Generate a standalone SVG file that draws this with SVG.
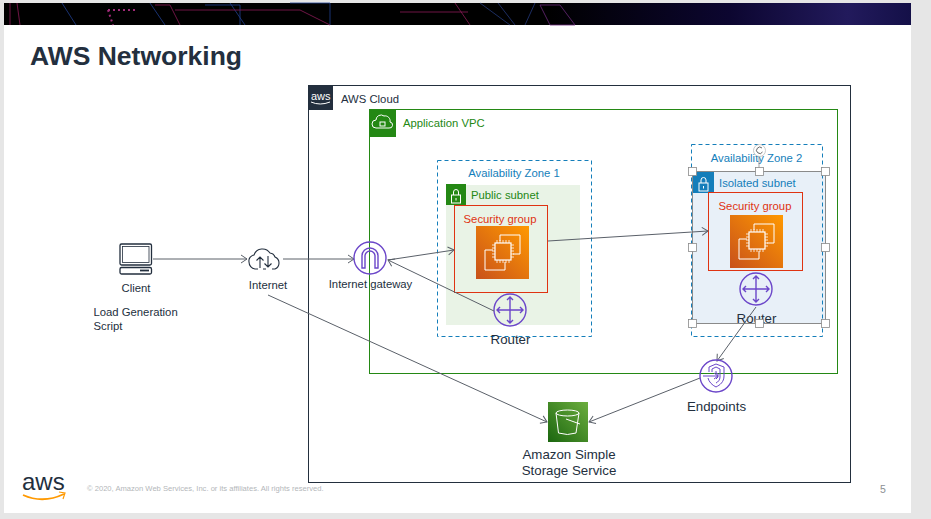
<svg xmlns="http://www.w3.org/2000/svg" width="931" height="519" viewBox="0 0 931 519">
<style>
text{font-family:"Liberation Sans",Arial,sans-serif;font-size:11.3px;fill:#232f3e}
.m{text-anchor:middle}
.big{font-size:13.3px}
.conn{fill:none;stroke:#5a6069;stroke-width:1;marker-end:url(#arr)}
.pi{fill:none;stroke:#6b46c9;stroke-width:1.4}
.wi{fill:none;stroke:#fff;stroke-width:1}
.h{fill:#fff;stroke:#8a8a8a;stroke-width:.8}
.grn{fill:#248814}.blu{fill:#147eba}
.sg{fill:none;stroke:#df3312;stroke-width:1}
.az{fill:none;stroke:#147eba;stroke-width:1;stroke-dasharray:4 3}
</style>
<defs>
<marker id="arr" viewBox="0 0 8 10" refX="7" refY="5" markerWidth="8" markerHeight="10" markerUnits="userSpaceOnUse" orient="auto"><path d="M1 1L7 5L1 9" fill="none" stroke="#5a6069" stroke-width="1"/></marker>
<linearGradient id="ec2g" x1="0" y1="1" x2="1" y2="0"><stop offset="0" stop-color="#c8511b"/><stop offset="1" stop-color="#f90"/></linearGradient>
<linearGradient id="s3g" x1="0" y1="1" x2="1" y2="0"><stop offset="0" stop-color="#1b660f"/><stop offset="1" stop-color="#6cae3e"/></linearGradient>
<linearGradient id="ban" x1="0" y1="0" x2="1" y2="0"><stop offset="0" stop-color="#000"/><stop offset=".6" stop-color="#000"/><stop offset=".8" stop-color="#0c0630"/><stop offset=".93" stop-color="#221a5c"/><stop offset="1" stop-color="#141048"/></linearGradient>
<g id="ec2"><rect width="53" height="53" fill="url(#ec2g)"/><path class="wi" d="M24 15V9H44V28H37M17 24H9V44H29V36"/><rect class="wi" x="19" y="17" width="16" height="17" style="stroke-width:1.200"/><path class="wi" d="M21 14V17M24 14V17M27 14V17M30 14V17M33 14V17M21 34V37M24 34V37M27 34V37M30 34V37M33 34V37M16 19H19M16 22H19M16 25H19M16 28H19M16 31H19M35 19H38M35 22H38M35 25H38M35 28H38M35 31H38" style="stroke-width:.8"/></g>
<g id="router"><circle class="pi" r="16"/><path class="pi" d="M0-13V13M-13 0H13M-3-10L0-13L3-10M-3 10L0 13L3 10M-10-3L-13 0L-10 3M10-3L13 0L10 3"/></g>
<g id="lock"><rect x="-4" y="-1" width="9" height="8" class="wi"/><path class="wi" d="M-2-1V-4A2.500 2.500 0 0 1 3-4V-1M.500 2V4.500"/></g>
</defs>

<rect width="931" height="519" fill="#e6e6e6"/>
<rect x="4" y="3" width="907" height="510" fill="#fff"/>
<rect x="4" y="3" width="907" height="22" fill="url(#ban)"/>
<g fill="none" stroke-width=".8">
<path stroke="#1f3f8f" d="M62 3L76 25M150 3L165 25M230 3L245 25M290 3H330V25M205 5H240V25"/>
<path stroke="#8a1a55" d="M10 3V25M17 3L20 25M175 10H300L330 25M400 12H468M455 3L470 25M155 5H170L180 25"/>
<path stroke="#a02a78" stroke-dasharray="2 3" stroke-width="2" d="M108 10H138M108 10L113 25"/>
<path stroke="#6a2a7a" d="M540 5H560L575 25H550L540 5"/>
<path stroke="#23387a" d="M480 3L510 25M498 3L515 25M525 25L535 3"/>
</g>
<text x="30" y="65" style="font-size:26.500px;font-weight:bold">AWS Networking</text>

<g id="aws-cloud"><rect x="308.500" y="85.500" width="542" height="397" fill="none" stroke="#232f3e"/><rect x="308" y="85" width="25" height="25" fill="#232f3e"/><text x="311" y="100" style="font-size:11px;fill:#fff">aws</text><path d="M311 102Q320 106 330 102" fill="none" stroke="#fff"/><text x="341" y="103">AWS Cloud</text></g>
<g id="vpc"><rect x="369.500" y="109.500" width="468" height="264" fill="none" stroke="#248814"/><rect x="369.500" y="109.500" width="26.500" height="27.500" class="grn"/><path class="wi" d="M376 128A4 4 0 0 1 376 120A5 5 0 0 1 384 116A5 5 0 0 1 390 122A3 3 0 0 1 389 128Z"/><rect class="wi" x="380" y="122" width="5" height="4"/><text x="403" y="127" style="fill:#248814">Application VPC</text></g>

<g id="az1"><rect x="437.500" y="160.500" width="154" height="176" class="az"/><text class="m" x="514" y="177" style="fill:#147eba">Availability Zone 1</text></g>
<g id="public-subnet"><rect x="446" y="185" width="134" height="140" fill="#e9f3e6"/><rect x="446" y="184" width="20" height="21" class="grn"/><use href="#lock" x="455.500" y="196"/><text x="471" y="199" style="fill:#248814">Public subnet</text></g>
<g id="sg1"><rect x="454.500" y="205.500" width="93" height="87" class="sg"/><text class="m" x="500" y="223" style="fill:#df3312">Security group</text><use href="#ec2" x="476" y="226"/></g>
<g id="router1"><use href="#router" x="510" y="310"/><text class="m big" x="510.500" y="344">Router</text></g>

<g id="isolated-subnet"><rect x="692.500" y="171.500" width="133" height="152" fill="#e8f0f8" stroke="#8a8a8a"/><rect x="693" y="172" width="21" height="21" class="blu"/><use href="#lock" x="703" y="184"/><text x="719" y="187" style="fill:#147eba">Isolated subnet</text></g>
<g id="az2"><rect x="691.500" y="144.500" width="131" height="192" class="az"/><text class="m" x="756.500" y="162" style="fill:#147eba">Availability Zone 2</text></g>
<g id="sg2"><rect x="708.500" y="192.500" width="94" height="78" class="sg"/><text class="m" x="755" y="210" style="fill:#df3312">Security group</text><use href="#ec2" x="730" y="215"/></g>
<g id="router2"><use href="#router" x="756" y="289"/><text class="m big" x="756.500" y="323">Router</text></g>

<g id="connectors">
<path class="conn" d="M153 259H247"/>
<path class="conn" d="M283 259H354"/>
<path class="conn" d="M388 260L454 250"/>
<path class="conn" d="M494 311L388 260"/>
<path class="conn" d="M548 241L708 231"/>
<path class="conn" d="M268 295L547 422"/>
<path class="conn" d="M756 307L717 361"/>
<path class="conn" d="M700 378L589 422"/>
</g>

<g id="selection">
<path d="M759 171V156" stroke="#8a8a8a" fill="none" stroke-width=".8"/>
<circle cx="759.500" cy="150.500" r="6" fill="#fff" stroke="#bbb" stroke-width=".8"/><path d="M762 148A3.200 3.200 0 1 0 762.500 152" fill="none" stroke="#555" stroke-width=".9"/>
<rect class="h" x="688.500" y="167.500" width="8" height="8"/><rect class="h" x="755.500" y="167.500" width="8" height="8"/><rect class="h" x="821.500" y="167.500" width="8" height="8"/>
<rect class="h" x="688.500" y="243.500" width="8" height="8"/><rect class="h" x="821.500" y="243.500" width="8" height="8"/>
<rect class="h" x="688.500" y="319.500" width="8" height="8"/><rect class="h" x="755.500" y="319.500" width="8" height="8"/><rect class="h" x="821.500" y="319.500" width="8" height="8"/>
</g>

<g id="client"><rect x="120" y="244" width="31.500" height="21" rx="1.500" fill="none" stroke="#232f3e" stroke-width="1.300"/><rect x="122.500" y="246.500" width="26.500" height="16" fill="none" stroke="#232f3e" stroke-width=".8"/><rect x="120" y="267.500" width="31.500" height="6.500" rx="1.500" fill="none" stroke="#232f3e" stroke-width="1.300"/><path d="M140 270.500H149" stroke="#232f3e" stroke-width="1.800"/><text class="m" x="136" y="292">Client</text></g>
<text x="93.500" y="316">Load Generation</text><text x="93.500" y="330">Script</text>

<g id="internet"><path d="M258 269H255A7 7 0 0 1 249 262A6 6 0 0 1 254 255A9 9 0 0 1 270 253A6 6 0 0 1 275 257A6.500 6.500 0 0 1 275 269H272" fill="none" stroke="#232f3e" stroke-width="1.100"/><path d="M260 268V257M256.500 260.500L260 257L263.500 260.500M268 256V267M264.500 263.500L268 267L271.500 263.500M263 269H266" fill="none" stroke="#232f3e" stroke-width="1.100"/><text class="m" x="268" y="289">Internet</text></g>

<g id="igw"><circle class="pi" cx="370" cy="258" r="16"/><path class="pi" d="M362 268V256A8 8 0 0 1 378 256V268H375V256A5 5 0 0 0 365 256V268Z"/><text class="m" x="370.500" y="288">Internet gateway</text></g>

<g id="endpoints"><circle class="pi" cx="716" cy="376" r="16"/><path class="pi" style="stroke-width:1" d="M709 372V367L716 364L724 367V376C724 382 720 385 716 387C712 385 709 382 708 378M712 372V369L716 367L720 369V377C720 380 718 382 716 383M716 371V373L718 374V377L716 379M703 376H717M714 373L718 376L714 379"/><text class="m big" x="716.500" y="411">Endpoints</text></g>

<g id="s3"><rect x="548" y="402" width="40" height="40" fill="url(#s3g)"/><ellipse class="wi" cx="567.500" cy="413" rx="11.500" ry="3"/><path class="wi" d="M556 413L558.500 433Q567.500 436 576 433L579 413M566 419L580 424"/><text class="m big" x="569" y="459">Amazon Simple</text><text class="m big" x="569" y="475">Storage Service</text></g>

<g id="footer"><text x="22" y="490" style="font-size:24px">aws</text><path d="M23 495Q43 504 64 494" fill="none" stroke="#f90" stroke-width="1.800"/><path d="M59 492L65 493L63 499" fill="none" stroke="#f90" stroke-width="1.200"/><text x="87" y="491" style="font-size:7.600px;fill:#b4b7ba">© 2020, Amazon Web Services, Inc. or its affiliates. All rights reserved.</text><text x="880" y="493" style="font-size:10.500px;fill:#8c8f93">5</text></g>
</svg>
